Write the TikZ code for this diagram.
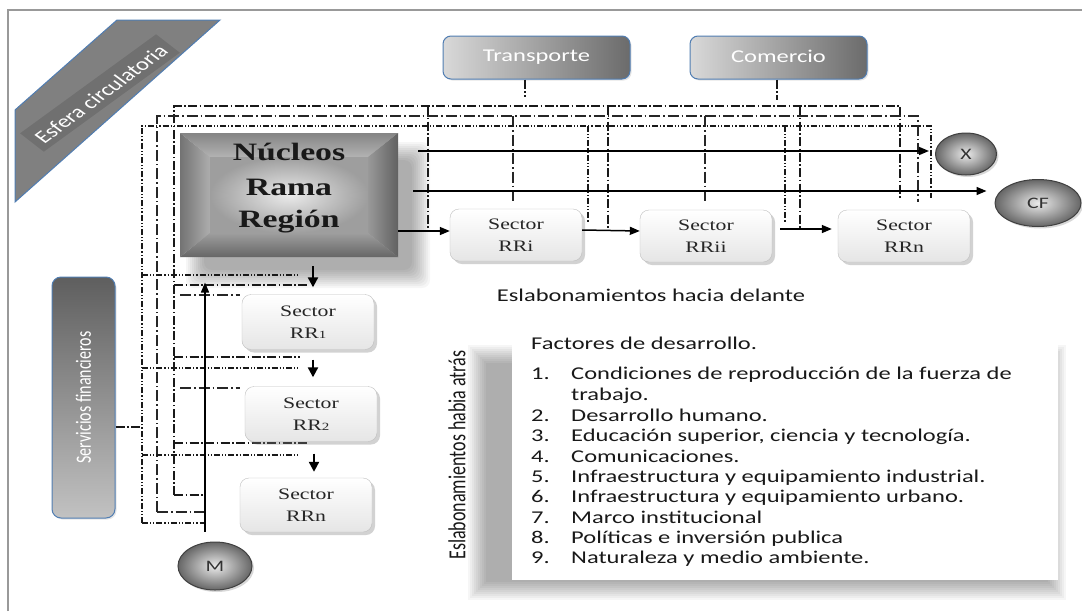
\documentclass[tikz,border=0pt]{standalone}
\usepackage{fontspec}
\setmainfont{Liberation Serif}
\newfontfamily\calfont{Carlito}
\usetikzlibrary{shadows,arrows.meta,calc,shapes.geometric}
\definecolor{bord}{RGB}{80,125,178}
\definecolor{bandg}{gray}{0.50}
\definecolor{gLa}{gray}{0.85}
\definecolor{gDa}{gray}{0.42}
\definecolor{gTop}{gray}{0.37}
\definecolor{gBot}{gray}{0.76}
\newcommand\hs[1]{\scalebox{1.36}[1]{#1}}
\begin{document}
\begin{tikzpicture}[x=1pt,y=-1pt,
  sector/.style={rectangle, rounded corners=9pt, draw=black!25, top color=white, bottom color=black!10, minimum width=132pt, minimum height=52pt, inner sep=0pt, align=center, font=\fontsize{16}{22}\selectfont, text=black!85, drop shadow={shadow xshift=3pt, shadow yshift=-3pt, opacity=.35}},
  ball/.style={ellipse, draw=black!75, line width=1pt, inner color=black!8, outer color=black!60, inner sep=0pt, font=\calfont\fontsize{16}{16}\selectfont, text=black!80, drop shadow={shadow xshift=2pt, shadow yshift=-2pt, opacity=.3}},
  gbox/.style={rectangle, rounded corners=8pt, draw=bord, line width=1pt, inner sep=0pt, text=white, font=\calfont\fontsize{18}{18}\selectfont, drop shadow={shadow xshift=1.5pt, shadow yshift=-1.5pt, opacity=.2}},
  arr/.style={-{Triangle[length=10pt,width=8pt]}, line width=1.5pt, black},
  varr/.style={-{Triangle[length=10pt,width=10pt]}, line width=2.2pt, black},
  dA/.style={line width=1.2pt, black!90, dash pattern=on 9pt off 2.5pt on 1.5pt off 2.5pt},
  dB/.style={line width=1.5pt, black!85, dash pattern=on 11pt off 3pt on 1.5pt off 3pt},
  dC/.style={line width=1.1pt, black!90, dash pattern=on 6pt off 2pt on 1.2pt off 2pt on 1.2pt off 2pt},
  ftxt/.style={anchor=base west, inner sep=0pt, font=\calfont\fontsize{18}{18}\selectfont, text=black!90},
]
\useasboundingbox (0,0) rectangle (1082,611);
\fill[white] (0,0) rectangle (1082,611);
% frame
\draw[black!40, line width=2.5pt] (8,611) -- (8,10) -- (1082,10);

% Esfera circulatoria band
\filldraw[fill=bandg, draw=bord, line width=1pt] (117,20) -- (220,20) -- (15,202) -- (15,110) -- cycle;
\begin{scope}
  \clip (117,20) -- (220,20) -- (15,202) -- (15,110) -- cycle;
  \fill[black, opacity=.12] (179.8,52.7) -- (156.1,34.3) -- (20.1,133.3) -- (43.8,151.7) -- cycle;
\end{scope}
\node[text=white, inner sep=0pt] (esf) at (101,94) {\hs{\rotatebox{45}{\calfont\fontsize{18}{18}\selectfont Esfera circulatoria}}};

% Transporte / Comercio
\node[gbox, left color=gLa, right color=gDa, minimum width=187pt, minimum height=43pt] (tra) at (536.5,57.5) {\raisebox{3pt}{\hs{Transporte}}};
\node[gbox, left color=gLa, right color=gDa, minimum width=177pt, minimum height=43pt] (com) at (778.5,57.5) {\raisebox{3pt}{\hs{Comercio}}};

% Servicios financieros
\node[gbox, top color=gTop, bottom color=gBot, minimum width=63pt, minimum height=241pt, rounded corners=9pt] (ser) at (83.5,397.5) {\hs{\rotatebox{90}{\calfont\fontsize{16}{16}\selectfont Servicios financieros}}};

% Nucleos shadow
\foreach \i in {0,...,9}
  \fill[black, opacity=.035, rounded corners=8pt] ({186+2*\i},{142+2*\i}) rectangle ({430-2*\i},{288-2*\i});
% Nucleos box
\node[minimum width=218pt, minimum height=124pt, inner sep=0pt] (nuc) at (289,195) {};
\shade[top color=black!48, bottom color=black!30] (180,133) -- (398,133) -- (368,157) -- (210,157) -- cycle;
\shade[left color=black!55, right color=black!32] (180,133) -- (210,157) -- (210,233) -- (180,257) -- cycle;
\shade[right color=black!62, left color=black!40] (398,133) -- (398,257) -- (368,233) -- (368,157) -- cycle;
\shade[bottom color=black!60, top color=black!38] (180,257) -- (210,233) -- (368,233) -- (398,257) -- cycle;
\shade[inner color=black!8, outer color=black!38] (210,157) rectangle (368,233);
\node[font=\bfseries\fontsize{25}{25}\selectfont, text=black!90, inner sep=0pt] at (289,152) {\scalebox{1.35}[1]{Núcleos}};
\node[font=\bfseries\fontsize{25}{25}\selectfont, text=black!90, inner sep=0pt] at (289,187) {\scalebox{1.35}[1]{Rama}};
\node[font=\bfseries\fontsize{25}{25}\selectfont, text=black!90, inner sep=0pt] at (289,222) {\scalebox{1.35}[1]{Región}};

% Factores box with shadow
\foreach \i in {0,...,9}
  \fill[black, opacity=.035] ({468+2*\i},{345+2*\i}) rectangle ({1066-2*\i},{600-2*\i});
\fill[white] (512,338) rectangle (1058,580);

% dash-dot network
% family A (x=174, y=106)
\draw[dA] (174,495) -- (174,106) -- (900,106) -- (900,198);
\draw[dA] (428,106) -- (428,230);
\draw[dA] (608,106) -- (608,229);
\draw[dA] (800,106) -- (800,229);
\draw[dA] (174,285) -- (307,285);
\draw[dA] (174,357) -- (300,357);
\draw[dA] (174,443) -- (307,443);
\draw[dA] (174,495) -- (205,495);
\draw[dB] (180,295) -- (240,295);
\draw[dB] (180,388) -- (240,388);
% family B (x=157, y=116)
\draw[dB] (157,512) -- (157,116) -- (918,116) -- (918,202);
\draw[dB] (513,116) -- (513,202);
\draw[dB] (705,116) -- (705,203);
\draw[dB] (157,512) -- (205,512);
% family C (x=142, y=126)
\draw[dC] (142,523) -- (142,126) -- (931,126) -- (931,198);
\draw[dC] (588,126) -- (588,222);
\draw[dC] (785,126) -- (785,222);
\draw[dC] (142,275) -- (300,275);
\draw[dC] (142,368) -- (300,368);
\draw[dC] (142,455) -- (300,455);
\draw[dC] (142,523) -- (205,523);
% links from service boxes
\draw[dA] (ser.east |- 0,427) -- (142,427);
\draw[dA] (tra.south -| 525,0) -- (525,97);
\draw[dA] (com.south -| 777,0) -- (777,100);

% sectors
\node[sector] (rri) at (516,235) {\hs{Sector}\\\hs{RRi}};
\node[sector] (rrii) at (706,236) {\hs{Sector}\\\hs{RRii}};
\node[sector] (rrn) at (904,236) {\hs{Sector}\\\hs{RRn}};
\node[sector, minimum height=55pt] (rr1) at (308,322) {\hs{Sector}\\\hs{RR{\fontsize{11}{11}\selectfont 1}}};
\node[sector, minimum height=55pt] (rr2) at (311,414) {\hs{Sector}\\\hs{RR{\fontsize{11}{11}\selectfont 2}}};
\node[sector, minimum height=54pt] (rrnb) at (306,505) {\hs{Sector}\\\hs{RRn}};

% ellipses
\node[ball, minimum width=61pt, minimum height=42pt] (X) at (966,154) {\hs{X}};
\node[ball, minimum width=86pt, minimum height=47pt] (CF) at (1038,203) {\hs{CF}};
\node[ball, minimum width=74pt, minimum height=48pt] (M) at (215,566) {\hs{M}};

% solid arrows
\coordinate (a1s) at (418,151);
\coordinate (a2s) at (413,191);
\draw[arr] (a1s) -- ([xshift=-6pt]X.west |- a1s);
\draw[arr] (a2s) -- ([xshift=-8pt]CF.west |- a2s);
\draw[arr] ([yshift=4pt]rri.west -| nuc.east) -- ([yshift=4pt]rri.west);
\draw[arr] ([yshift=5pt]rri.east) -- ([yshift=5pt]rrii.west);
\draw[arr, shorten <=8pt, shorten >=6pt] ([yshift=7pt]rrii.east) -- ([yshift=7pt]rrn.west);
\draw[varr] ($(nuc.south)+(24,9)$) -- ($(rr1.north)+(5,-7)$);
\draw[varr] ($(rr1.south)+(5,10)$) -- ($(rr2.north)+(2,-9)$);
\draw[varr] ($(rr2.south)+(3,12)$) -- ($(rrnb.north)+(8,-6)$);
\draw[arr] ($(M.north)+(-10,-10)$) -- ($(M.north)+(-10,-259)$);

% texts
\node[font=\calfont\fontsize{18}{18}\selectfont, text=black!90, inner sep=0pt] (del) at (651,295) {\hs{Eslabonamientos hacia delante}};
\node[inner sep=0pt, text=black!90] (atr) at (457,455) {\hs{\rotatebox{90}{\calfont\fontsize{18}{18}\selectfont Eslabonamientos habia atrás}}};

\node[ftxt] (f0) at (531,349) {\hs{Factores de desarrollo.}};
\node[ftxt] (n1) at (531,379) {\hs{1.}};
\node[ftxt] (t1) at (571,379) {\hs{Condiciones de reproducción de la fuerza de}};
\node[ftxt] (t1b) at (571,400) {\hs{trabajo.}};
\node[ftxt] (n2) at (531,421) {\hs{2.}};
\node[ftxt] (t2) at (571,421) {\hs{Desarrollo humano.}};
\node[ftxt] (n3) at (531,441) {\hs{3.}};
\node[ftxt] (t3) at (571,441) {\hs{Educación superior, ciencia y tecnología.}};
\node[ftxt] (n4) at (531,462) {\hs{4.}};
\node[ftxt] (t4) at (571,462) {\hs{Comunicaciones.}};
\node[ftxt] (n5) at (531,482) {\hs{5.}};
\node[ftxt] (t5) at (571,482) {\hs{Infraestructura y equipamiento industrial.}};
\node[ftxt] (n6) at (531,502) {\hs{6.}};
\node[ftxt] (t6) at (571,502) {\hs{Infraestructura y equipamiento urbano.}};
\node[ftxt] (n7) at (531,523) {\hs{7.}};
\node[ftxt] (t7) at (571,523) {\hs{Marco institucional}};
\node[ftxt] (n8) at (531,543) {\hs{8.}};
\node[ftxt] (t8) at (571,543) {\hs{Políticas e inversión publica}};
\node[ftxt] (n9) at (531,563) {\hs{9.}};
\node[ftxt] (t9) at (571,563) {\hs{Naturaleza y medio ambiente.}};
\end{tikzpicture}
\end{document}
